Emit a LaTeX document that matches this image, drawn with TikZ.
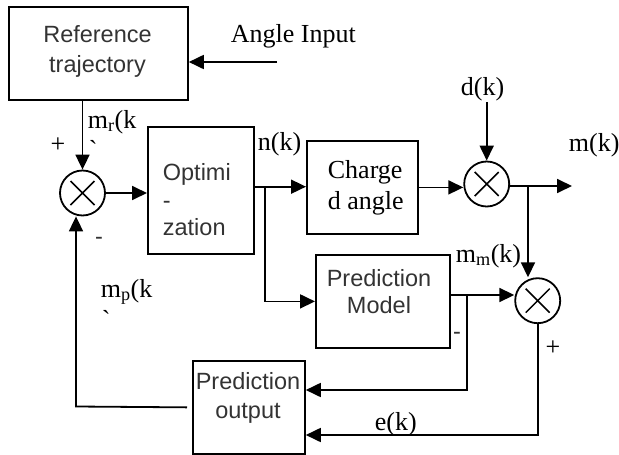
\documentclass[tikz,border=0pt]{standalone}
\usepackage{fontspec}
\setmainfont{Liberation Serif}
\setsansfont{Liberation Sans}
\usetikzlibrary{arrows.meta,calc}

\begin{document}
\begin{tikzpicture}[x=1pt,y=-1pt,line width=1.8pt,
  box/.style={draw,rectangle,inner sep=0pt,anchor=north west},
  sum/.style={draw,circle,minimum size=45pt,inner sep=0pt,
    path picture={\draw[line width=1.5pt]
      ([shift={(-12pt,-12pt)}]path picture bounding box.center) --
      ([shift={(12pt,12pt)}]path picture bounding box.center)
      ([shift={(-12pt,12pt)}]path picture bounding box.center) --
      ([shift={(12pt,-12pt)}]path picture bounding box.center);}},
  arr/.style={-{Triangle[length=15pt,width=14pt]}},
  lab/.style={inner sep=0pt,anchor=base west,font=\fontsize{26}{30}\selectfont},
  sgn/.style={inner sep=0pt,font=\fontsize{26}{30}\selectfont},
  blocktext/.style={inner sep=0pt,text=black!80},
]
\useasboundingbox (0,0) rectangle (619,455);

% blocks
\node[box,minimum width=179pt,minimum height=93pt] (ref) at (8,6) {};
\node[blocktext,align=center,font=\sffamily\fontsize{23.5}{30}\selectfont]
  (reft) at (97.5,51) {Reference\\trajectory};

\node[box,minimum width=106pt,minimum height=127pt] (opt) at (147,126) {};
\node[blocktext,align=left,anchor=west,font=\sffamily\fontsize{23.5}{27.5}\selectfont]
  (optt) at (162,200) {Optimi\\-\\zation};

\node[box,minimum width=111pt,minimum height=93pt] (chg) at (306,140) {};
\node[inner sep=0pt,align=left,anchor=west,font=\fontsize{26}{31}\selectfont]
  (chgt) at (327,188) {Charge\\d angle};

\node[box,minimum width=134pt,minimum height=93pt] (pm) at (315,254) {};
\node[blocktext,align=center,font=\sffamily\fontsize{23.5}{27}\selectfont]
  (pmt) at (379,292) {Prediction\\Model};

\node[box,minimum width=112pt,minimum height=93pt] (po) at (192,360) {};
\node[blocktext,align=center,font=\sffamily\fontsize{23.5}{29}\selectfont]
  (pot) at (248,398) {Prediction\\output};

% summing junctions
\node[sum] (s1) at (82.5,193) {};
\node[sum] (s2) at (486.7,184) {};
\node[sum] (s3) at (537.7,300.7) {};

% free ends and corners
\coordinate (ain) at (277,62);
\coordinate (nk) at (265,186.7);
\coordinate (dk) at (486.7,102);
\coordinate (mo) at (572,186);
\coordinate (mb) at (528,186);
\coordinate (mm) at (467,295);
\coordinate (mml) at (467,390);
\coordinate (ec) at (537.7,435);
\coordinate (fb) at (76,406.5);

% connectors
\draw[arr] (ain) -- (ain -| ref.east);
\draw[arr] (s1 |- ref.south) -- (s1.north);
\draw[arr] (s1.east) -- (opt.west |- s1);
\draw[arr] (opt.east |- nk) -- (chg.west |- nk);
\draw[arr] (nk) |- (pm.west);
\draw[arr] (chg.east) -- (chg.east -| s2.west);
\draw[arr] (dk) -- (s2.north);
\draw[arr] (s2.east |- mo) -- (mo);
\draw[arr] (mb) -- (mb |- s3.north);
\draw[arr] (pm.east |- mm) -- (s3.west |- mm);
\draw[arr] (mm) -- (mml) -- (mml -| po.east);
\draw[arr] (s3.south) -- (ec) -- (ec -| po.east);
\draw[arr,shorten <=5pt] (po.west) -- (fb) -- (fb |- s1.south);

% signal labels
\node[lab] (angle) at (230,42) {Angle Input};
\node[lab] (mr) at (87,128) {m\textsubscript{r}(k};
\node[lab] (mrq) at (88,158) {\textasciigrave};
\node[lab] (nkl) at (257,150) {n(k)};
\node[lab] (dkl) at (460,95) {d(k)};
\node[lab] (mkl) at (568,151) {m(k)};
\node[lab] (mml) at (455,262) {m\textsubscript{m}(k)};
\node[lab] (mp) at (100,297) {m\textsubscript{p}(k};
\node[lab] (mpq) at (101,328) {\textasciigrave};
\node[lab] (ekl) at (374,430) {e(k)};

% signs at the junctions
\node[sgn] (p1) at (58,145) {+};
\node[sgn] (p3) at (553,348) {+};
\node[blocktext,anchor=base,font=\sffamily\fontsize{23.5}{30}\selectfont] (n1) at (99,244) {-};
\node[blocktext,anchor=base,font=\sffamily\fontsize{23.5}{30}\selectfont] (n3) at (457,339) {-};
\end{tikzpicture}
\end{document}
